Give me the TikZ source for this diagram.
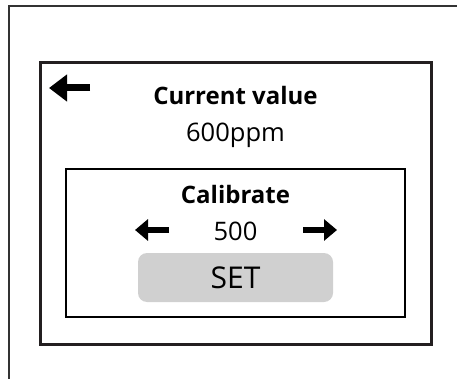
\documentclass[tikz,border=0pt]{standalone}
\usepackage{fontspec}
\setmainfont{Open Sans}
\usetikzlibrary{arrows.meta}
\definecolor{framegray}{HTML}{231F20}
\definecolor{buttongray}{HTML}{D0D0D0}

\begin{document}
\begin{tikzpicture}[x=1pt,y=-1pt]
        \tikzstyle{every node} = [inner sep=0pt, anchor=base]
        \tikzstyle{title} = [font=\fontsize{24}{29}\selectfont\bfseries]
        \tikzstyle{value} = [font=\fontsize{25.5}{30}\selectfont]
        \tikzstyle{icon} = [line width=6pt, -{Triangle[length=13pt,width=21pt]}]
        \useasboundingbox (0,0) rectangle (457,379);
        \clip (0,0) rectangle (457,379);
        \draw[line width=1.2pt, black!80] (9,6) rectangle (470,390);
        \draw[line width=3pt, framegray] (40,63) rectangle (431,344);
        \draw[line width=2pt] (66,169) rectangle (405,317);
        \node[title] (current) at (235.5,105) {Current value};
        \node[value] (ppm) at (235.5,142) {600ppm};
        \node[title] (calib) at (235.5,204) {Calibrate};
        \node[value] (num) at (235.5,240.5) {500};
        \draw[fill=buttongray, draw=none, rounded corners=9pt] (138,253) rectangle (333,302);
        \node[font=\fontsize{30}{35}\selectfont] (set) at (235.5,288.5) {SET};
        \coordinate (back-from) at (90,88);
        \coordinate (back-to) at (49,88);
        \coordinate (left-from) at (169,230);
        \coordinate (left-to) at (135,230);
        \coordinate (right-from) at (303,230);
        \coordinate (right-to) at (337,230);
        \draw[icon, line width=7pt, -{Triangle[length=18pt,width=26pt]}] (back-from) -- (back-to);
        \foreach \from/\to in {left-from/left-to, right-from/right-to}
            \draw[icon] (\from) -- (\to);
    \end{tikzpicture}
\end{document}
